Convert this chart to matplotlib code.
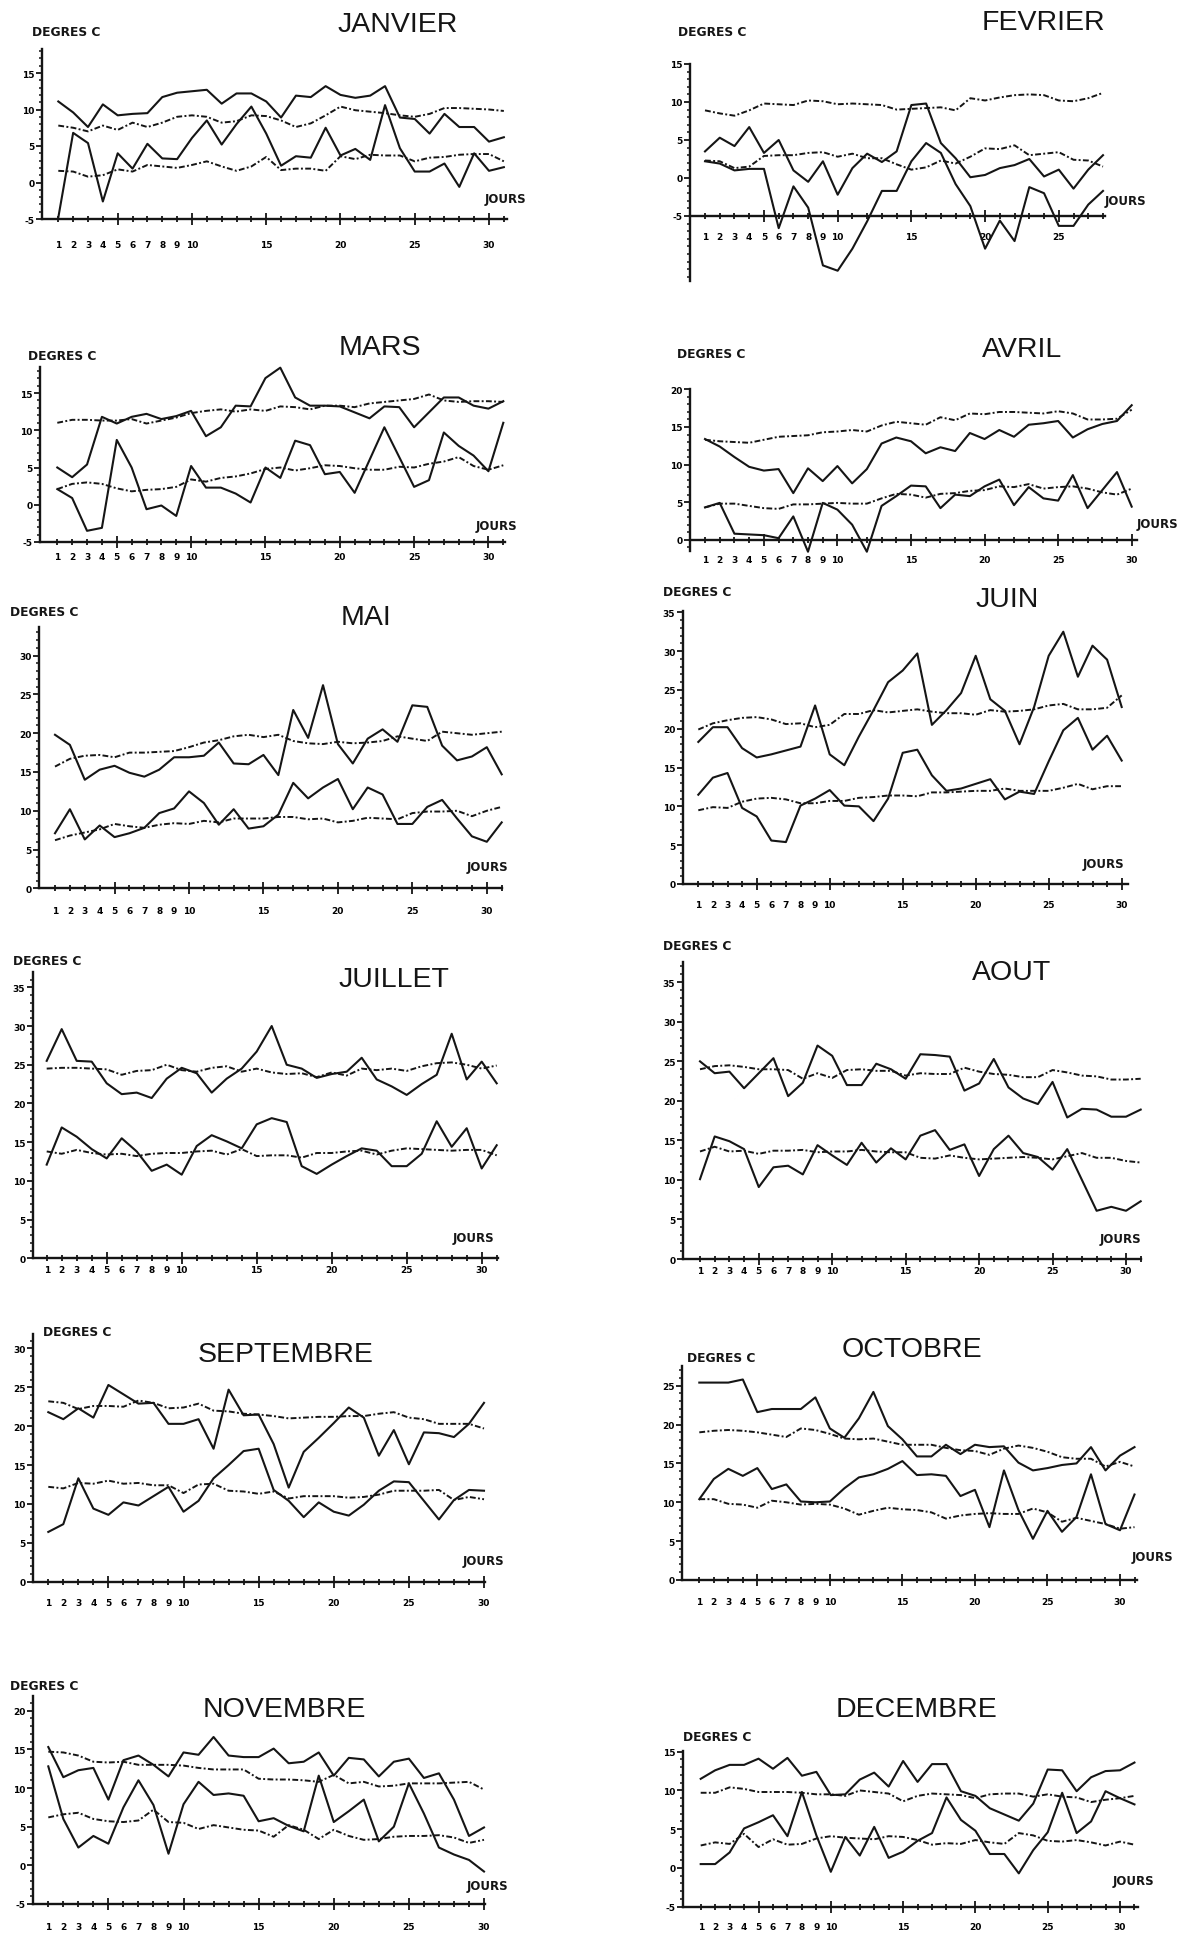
import matplotlib
matplotlib.use("Agg")
import matplotlib.pyplot as plt

# daily max / daily min / normal max / normal min, deg C, one value per day
jan_max = [11.1, 9.6, 7.6, 10.7, 9.2, 9.4, 9.5, 11.7, 12.3, 12.5, 12.7, 10.8, 12.2, 12.2, 11.1, 8.9,
           11.9, 11.7, 13.2, 12.0, 11.6, 11.9, 13.2, 8.9, 8.7, 6.7, 9.4, 7.6, 7.6, 5.6, 6.2]
jan_min = [-4.8, 6.8, 5.4, -2.6, 4.0, 1.9, 5.3, 3.3, 3.2, 6.1, 8.5, 5.2, 8.0, 10.4, 6.7, 2.3,
           3.6, 3.4, 7.5, 3.7, 4.6, 3.1, 10.6, 4.7, 1.5, 1.5, 2.6, -0.6, 4.0, 1.6, 2.1]
jan_nmax = [7.8, 7.5, 7.0, 7.8, 7.2, 8.2, 7.6, 8.2, 9.0, 9.2, 9.0, 8.2, 8.4, 9.2, 9.1, 8.5,
            7.6, 8.1, 9.2, 10.4, 9.9, 9.7, 9.5, 9.2, 9.0, 9.4, 10.2, 10.2, 10.1, 10.0, 9.8]
jan_nmin = [1.6, 1.5, 0.8, 1.0, 1.8, 1.5, 2.4, 2.2, 2.0, 2.4, 2.9, 2.2, 1.6, 2.2, 3.5, 1.7,
            1.9, 1.9, 1.6, 3.6, 3.2, 3.8, 3.7, 3.7, 2.9, 3.4, 3.5, 3.8, 3.9, 3.9, 2.9]

feb_max = [3.5, 5.3, 4.2, 6.7, 3.3, 5.0, 1.0, -0.5, 2.2, -2.2, 1.3, 3.2, 2.1, 3.5, 9.6, 9.8,
           4.6, 2.6, 0.1, 0.4, 1.3, 1.7, 2.5, 0.2, 1.1, -1.4, 1.1, 3.0]
feb_min = [2.2, 1.9, 1.0, 1.2, 1.2, -6.6, -1.1, -3.9, -11.5, -12.2, -9.3, -5.7, -1.7, -1.7, 2.2, 4.6,
           3.3, -0.8, -3.7, -9.3, -5.6, -8.3, -1.2, -2.0, -6.3, -6.3, -3.5, -1.7]
feb_nmax = [8.9, 8.5, 8.2, 8.9, 9.8, 9.7, 9.6, 10.2, 10.1, 9.7, 9.8, 9.7, 9.6, 9.0, 9.1, 9.2,
            9.3, 8.9, 10.5, 10.2, 10.6, 10.9, 11.0, 10.9, 10.2, 10.1, 10.5, 11.2]
feb_nmin = [2.3, 2.2, 1.3, 1.5, 2.9, 3.0, 3.0, 3.3, 3.4, 2.8, 3.2, 2.6, 2.6, 1.8, 1.1, 1.4,
            2.3, 1.9, 2.8, 3.9, 3.8, 4.3, 3.0, 3.2, 3.4, 2.4, 2.3, 1.5]

mar_max = [5.0, 3.7, 5.4, 11.8, 10.9, 11.8, 12.2, 11.5, 11.9, 12.6, 9.2, 10.4, 13.3, 13.2, 17.0, 18.4,
           14.4, 13.3, 13.3, 13.2, 12.4, 11.6, 13.2, 13.1, 10.4, 12.4, 14.4, 14.4, 13.3, 12.9, 13.9]
mar_min = [2.1, 0.9, -3.5, -3.1, 8.7, 5.0, -0.6, -0.1, -1.5, 5.2, 2.3, 2.3, 1.5, 0.3, 5.0, 3.6,
           8.6, 8.0, 4.1, 4.4, 1.6, 6.0, 10.4, 6.4, 2.4, 3.3, 9.7, 7.9, 6.6, 4.5, 11.0]
mar_nmax = [11.0, 11.4, 11.4, 11.3, 11.3, 11.5, 10.9, 11.3, 11.7, 12.3, 12.6, 12.8, 12.5, 12.8, 12.6, 13.2,
            13.1, 12.8, 13.3, 13.3, 13.1, 13.6, 13.8, 14.0, 14.2, 14.8, 14.0, 13.8, 13.9, 13.9, 13.8]
mar_nmin = [2.1, 2.8, 3.0, 2.8, 2.2, 1.8, 2.0, 2.1, 2.4, 3.4, 3.1, 3.6, 3.8, 4.2, 4.8, 5.0,
            4.6, 4.9, 5.3, 5.2, 4.9, 4.7, 4.7, 5.1, 5.0, 5.5, 5.8, 6.4, 5.2, 4.7, 5.3]

avr_max = [13.4, 12.4, 11.0, 9.7, 9.2, 9.4, 6.2, 9.5, 7.8, 9.8, 7.5, 9.4, 12.8, 13.6, 13.1,
           11.5, 12.3, 11.8, 14.2, 13.4, 14.6, 13.7, 15.3, 15.5, 15.8, 13.6, 14.7, 15.4, 15.8, 17.9]
avr_min = [4.3, 4.9, 0.8, 0.7, 0.6, 0.2, 3.1, -1.6, 4.9, 4.0, 2.0, -1.6, 4.5, 5.8, 7.2,
           7.1, 4.2, 6.0, 5.8, 7.1, 8.0, 4.6, 7.0, 5.5, 5.2, 8.6, 4.2, 6.6, 9.0, 4.4]
avr_nmax = [13.3, 13.1, 13.0, 12.9, 13.3, 13.7, 13.8, 13.9, 14.3, 14.4, 14.6, 14.4, 15.2, 15.7, 15.5,
            15.3, 16.3, 15.9, 16.8, 16.7, 17.0, 17.0, 16.9, 16.8, 17.1, 16.8, 16.0, 16.0, 16.1, 17.3]
avr_nmin = [4.3, 4.8, 4.8, 4.5, 4.2, 4.1, 4.7, 4.7, 4.8, 4.9, 4.8, 4.8, 5.5, 6.1, 6.0,
            5.6, 6.1, 6.2, 6.5, 6.6, 7.1, 7.0, 7.4, 6.8, 7.0, 7.1, 6.8, 6.3, 6.0, 6.8]

mai_max = [19.8, 18.5, 14.0, 15.3, 15.8, 14.9, 14.4, 15.3, 16.9, 16.9, 17.1, 18.8, 16.1, 16.0, 17.2, 14.6,
           23.0, 19.4, 26.2, 18.6, 16.1, 19.3, 20.5, 18.9, 23.6, 23.4, 18.4, 16.5, 17.0, 18.2, 14.7]
mai_min = [7.1, 10.2, 6.3, 8.1, 6.6, 7.1, 7.8, 9.7, 10.3, 12.5, 11.0, 8.2, 10.2, 7.7, 8.0, 9.5,
           13.6, 11.6, 13.0, 14.1, 10.2, 13.0, 12.1, 8.3, 8.3, 10.5, 11.4, 9.0, 6.7, 6.0, 8.5]
mai_nmax = [15.7, 16.7, 17.1, 17.2, 16.9, 17.5, 17.5, 17.6, 17.7, 18.2, 18.8, 19.1, 19.6, 19.8, 19.5, 19.8,
            19.0, 18.7, 18.6, 18.9, 18.7, 18.8, 19.0, 19.6, 19.3, 19.0, 20.2, 20.0, 19.8, 20.0, 20.2]
mai_nmin = [6.2, 6.8, 7.2, 7.6, 8.3, 8.0, 7.8, 8.2, 8.4, 8.3, 8.7, 8.5, 9.0, 9.0, 9.0, 9.2,
            9.2, 8.9, 9.0, 8.5, 8.7, 9.1, 9.0, 8.9, 9.7, 9.9, 9.9, 10.0, 9.3, 10.0, 10.5]

juin_max = [18.3, 20.2, 20.2, 17.5, 16.3, 16.7, 17.2, 17.7, 23.0, 16.7, 15.3, 19.0, 22.4, 26.0, 27.5,
            29.7, 20.5, 22.4, 24.6, 29.4, 23.8, 22.3, 18.0, 22.8, 29.4, 32.5, 26.7, 30.7, 28.9, 22.8]
juin_min = [11.5, 13.7, 14.3, 9.8, 8.7, 5.6, 5.4, 10.1, 11.0, 12.1, 10.1, 10.0, 8.1, 11.0, 16.9,
            17.3, 14.0, 12.0, 12.3, 12.9, 13.5, 10.9, 11.9, 11.6, 15.8, 19.8, 21.4, 17.3, 19.1, 15.9]
juin_nmax = [19.9, 20.7, 21.1, 21.4, 21.5, 21.2, 20.6, 20.7, 20.2, 20.5, 21.9, 21.9, 22.4, 22.1, 22.3,
             22.5, 22.2, 22.0, 22.0, 21.8, 22.4, 22.2, 22.3, 22.5, 23.0, 23.2, 22.5, 22.5, 22.7, 24.3]
juin_nmin = [9.5, 9.9, 9.8, 10.6, 11.0, 11.1, 10.9, 10.4, 10.4, 10.7, 10.7, 11.1, 11.2, 11.4, 11.4,
             11.3, 11.8, 11.8, 11.9, 12.0, 12.0, 12.3, 12.0, 12.0, 12.0, 12.4, 12.9, 12.2, 12.6, 12.6]

juil_max = [25.5, 29.6, 25.5, 25.4, 22.6, 21.2, 21.4, 20.7, 23.2, 24.6, 23.9, 21.4, 23.2, 24.5, 26.7, 30.0,
            25.0, 24.5, 23.3, 23.8, 24.1, 25.9, 23.1, 22.2, 21.1, 22.5, 23.7, 29.0, 23.1, 25.4, 22.6]
juil_min = [12.1, 16.9, 15.7, 14.1, 12.9, 15.5, 13.8, 11.3, 12.1, 10.8, 14.5, 15.9, 15.1, 14.2, 17.3, 18.1,
            17.6, 11.9, 10.9, 12.1, 13.2, 14.2, 13.9, 11.9, 11.9, 13.5, 17.7, 14.4, 16.8, 11.6, 14.6]
juil_nmax = [24.5, 24.6, 24.6, 24.5, 24.4, 23.7, 24.2, 24.3, 25.0, 24.3, 24.1, 24.6, 24.8, 24.1, 24.5, 24.0,
             23.8, 23.9, 23.4, 24.0, 23.6, 24.5, 24.3, 24.5, 24.2, 24.8, 25.2, 25.3, 25.0, 24.5, 24.9]
juil_nmin = [13.8, 13.5, 14.0, 13.6, 13.4, 13.5, 13.2, 13.5, 13.6, 13.6, 13.8, 13.9, 13.4, 14.1, 13.2, 13.3,
             13.3, 13.0, 13.6, 13.6, 13.8, 13.9, 13.4, 13.9, 14.2, 14.1, 14.0, 13.9, 14.0, 14.0, 13.3]

aout_max = [25.0, 23.5, 23.7, 21.6, 23.5, 25.4, 20.6, 22.3, 27.0, 25.7, 22.0, 22.0, 24.7, 24.0, 22.8, 25.9,
            25.8, 25.6, 21.3, 22.2, 25.3, 21.7, 20.3, 19.6, 22.4, 17.9, 19.0, 18.9, 18.0, 18.0, 18.9]
aout_min = [10.1, 15.5, 14.9, 13.9, 9.1, 11.6, 11.8, 10.7, 14.4, 13.1, 11.9, 14.7, 12.2, 14.0, 12.6, 15.6,
            16.3, 13.8, 14.5, 10.5, 13.9, 15.6, 13.4, 12.9, 11.3, 13.9, 10.0, 6.1, 6.6, 6.1, 7.3]
aout_nmax = [24.0, 24.4, 24.5, 24.3, 24.0, 24.0, 23.9, 22.8, 23.5, 22.9, 23.9, 24.0, 23.8, 23.8, 23.2, 23.5,
             23.4, 23.4, 24.2, 23.7, 23.4, 23.3, 23.0, 23.0, 23.9, 23.6, 23.2, 23.1, 22.7, 22.7, 22.8]
aout_nmin = [13.6, 14.2, 13.6, 13.7, 13.3, 13.7, 13.7, 13.8, 13.5, 13.6, 13.6, 13.8, 13.6, 13.5, 13.5, 12.8,
             12.7, 13.1, 12.8, 12.6, 12.7, 12.8, 12.9, 12.8, 12.6, 13.0, 13.4, 12.8, 12.8, 12.4, 12.2]

sep_max = [21.8, 20.9, 22.3, 21.1, 25.3, 24.1, 22.9, 23.0, 20.3, 20.3, 20.9, 17.1, 24.7, 21.4, 21.5,
           17.7, 12.1, 16.7, 18.5, 20.4, 22.4, 21.1, 16.2, 19.5, 15.1, 19.2, 19.1, 18.6, 20.3, 23.0]
sep_min = [6.4, 7.4, 13.3, 9.4, 8.6, 10.2, 9.8, 11.0, 12.2, 9.0, 10.4, 13.3, 15.0, 16.8, 17.1,
           11.8, 10.4, 8.3, 10.2, 9.0, 8.5, 9.9, 11.7, 12.9, 12.8, 10.4, 8.0, 10.5, 11.8, 11.7]
sep_nmax = [23.2, 23.0, 22.2, 22.6, 22.6, 22.5, 23.3, 23.0, 22.3, 22.4, 22.9, 22.0, 21.9, 21.6, 21.5,
            21.3, 21.0, 21.1, 21.2, 21.2, 21.3, 21.3, 21.6, 21.8, 21.1, 20.9, 20.3, 20.3, 20.3, 19.7]
sep_nmin = [12.2, 12.0, 12.7, 12.6, 13.0, 12.6, 12.7, 12.4, 12.4, 11.4, 12.5, 12.6, 11.7, 11.6, 11.3,
            11.6, 10.7, 11.0, 11.0, 11.0, 10.8, 10.9, 11.2, 11.7, 11.7, 11.7, 11.8, 10.5, 10.9, 10.6]

oct_max = [25.4, 25.4, 25.4, 25.8, 21.6, 22.0, 22.0, 22.0, 23.5, 19.5, 18.3, 20.8, 24.2, 19.8, 18.1, 15.9,
           15.9, 17.4, 16.2, 17.4, 17.1, 17.2, 15.1, 14.1, 14.4, 14.8, 15.0, 17.1, 14.1, 16.0, 17.1]
oct_min = [10.4, 13.0, 14.3, 13.4, 14.4, 11.7, 12.3, 10.1, 10.0, 10.1, 11.8, 13.2, 13.6, 14.3, 15.3, 13.5,
           13.6, 13.4, 10.8, 11.6, 6.8, 14.1, 9.0, 5.3, 8.9, 6.2, 8.1, 13.6, 7.2, 6.4, 11.0]
oct_nmax = [19.0, 19.2, 19.3, 19.2, 19.0, 18.7, 18.4, 19.5, 19.3, 18.8, 18.2, 18.1, 18.2, 17.8, 17.4, 17.4,
            17.4, 17.0, 16.7, 16.6, 16.1, 16.9, 17.3, 17.0, 16.5, 15.8, 15.6, 15.6, 14.6, 15.2, 14.6]
oct_nmin = [10.4, 10.4, 9.8, 9.7, 9.3, 10.2, 10.0, 9.7, 9.8, 9.7, 9.2, 8.4, 8.9, 9.3, 9.1, 9.0,
            8.7, 7.9, 8.3, 8.5, 8.6, 8.5, 8.5, 9.2, 8.7, 7.5, 8.0, 7.6, 7.2, 6.6, 6.8]

nov_max = [15.3, 11.4, 12.3, 12.6, 8.5, 13.6, 14.2, 13.0, 11.5, 14.6, 14.3, 16.6, 14.2, 14.0, 14.0,
           15.1, 13.2, 13.4, 14.6, 11.6, 13.9, 13.7, 11.5, 13.4, 13.8, 11.3, 11.9, 8.5, 3.8, 4.9]
nov_min = [12.8, 6.0, 2.3, 3.8, 2.8, 7.5, 11.0, 7.8, 1.5, 7.9, 10.8, 9.1, 9.3, 9.0, 5.7,
           6.1, 5.1, 4.4, 11.6, 5.6, 7.0, 8.5, 3.1, 5.0, 10.6, 6.7, 2.3, 1.4, 0.7, -0.8]
nov_nmax = [14.7, 14.6, 14.2, 13.4, 13.3, 13.4, 13.0, 13.0, 13.0, 12.9, 12.6, 12.4, 12.4, 12.4, 11.2,
            11.1, 11.1, 11.0, 10.8, 11.7, 10.6, 10.8, 10.2, 10.3, 10.6, 10.6, 10.6, 10.7, 10.8, 9.8]
nov_nmin = [6.2, 6.6, 6.8, 6.0, 5.7, 5.6, 5.8, 7.2, 5.6, 5.5, 4.7, 5.2, 4.9, 4.6, 4.5,
            3.7, 5.2, 4.6, 3.4, 4.6, 3.8, 3.3, 3.4, 3.7, 3.8, 3.8, 3.9, 3.6, 2.9, 3.3]

dec_max = [11.5, 12.6, 13.3, 13.3, 14.1, 12.8, 14.2, 11.9, 12.4, 9.4, 9.5, 11.4, 12.3, 10.5, 13.8, 11.1,
           13.4, 13.4, 9.9, 9.3, 7.7, 6.9, 6.1, 8.3, 12.7, 12.6, 9.9, 11.7, 12.5, 12.6, 13.6]
dec_min = [0.5, 0.5, 2.0, 5.1, 5.9, 6.8, 4.1, 9.8, 4.2, -0.5, 4.0, 1.6, 5.3, 1.3, 2.1, 3.5,
           4.5, 9.1, 6.2, 4.8, 1.8, 1.8, -0.7, 2.3, 4.6, 9.7, 4.5, 6.0, 9.9, 9.0, 8.2]
dec_nmax = [9.7, 9.7, 10.4, 10.2, 9.8, 9.8, 9.8, 9.7, 9.5, 9.5, 9.3, 10.0, 9.8, 9.6, 8.6, 9.3,
            9.6, 9.5, 9.4, 9.0, 9.5, 9.6, 9.6, 9.2, 9.5, 9.2, 9.1, 8.5, 8.8, 9.0, 9.3]
dec_nmin = [2.9, 3.3, 3.1, 4.4, 2.7, 3.7, 3.0, 3.1, 3.8, 4.1, 3.9, 3.8, 3.7, 4.1, 4.0, 3.6,
            3.0, 3.2, 3.1, 3.6, 3.3, 3.1, 4.5, 4.2, 3.5, 3.4, 3.6, 3.3, 2.9, 3.4, 3.0]

months = ["JANVIER", "FEVRIER", "MARS", "AVRIL", "MAI", "JUIN",
          "JUILLET", "AOUT", "SEPTEMBRE", "OCTOBRE", "NOVEMBRE", "DECEMBRE"]
series = [
    (jan_max, jan_min, jan_nmax, jan_nmin), (feb_max, feb_min, feb_nmax, feb_nmin),
    (mar_max, mar_min, mar_nmax, mar_nmin), (avr_max, avr_min, avr_nmax, avr_nmin),
    (mai_max, mai_min, mai_nmax, mai_nmin), (juin_max, juin_min, juin_nmax, juin_nmin),
    (juil_max, juil_min, juil_nmax, juil_nmin), (aout_max, aout_min, aout_nmax, aout_nmin),
    (sep_max, sep_min, sep_nmax, sep_nmin), (oct_max, oct_min, oct_nmax, oct_nmin),
    (nov_max, nov_min, nov_nmax, nov_nmin), (dec_max, dec_min, dec_nmax, dec_nmin),
]

W, H = 1196, 1940

# frame of each panel in pixels:
# spine x, right end x, x of day 1, (day, x), (value, y), (value, y), top y, bottom y, x-axis level
frames = [
    (42, 507, 58.3, (30, 489), (15, 74), (-5, 220), 50, 220, -5),
    (690, 1105, 705, (28, 1103), (15, 65), (-5, 217), 65, 282, -5),
    (40, 505, 57.3, (31, 503.3), (15, 394), (-5, 543), 368, 543, -5),
    (690, 1137, 705, (30, 1131.7), (15, 428), (0, 540.7), 390, 552, 0),
    (39, 502, 55, (31, 501.7), (30, 656.7), (0, 889.3), 628, 889.3, 0),
    (683, 1128, 698.3, (30, 1121.7), (35, 613.3), (0, 885), 612, 885, 0),
    (33, 498, 46.7, (30, 481.7), (35, 988.3), (0, 1259.3), 973, 1259.3, 0),
    (683, 1141, 700, (30, 1126), (35, 983.3), (0, 1260), 963, 1260, 0),
    (33, 485, 48.3, (30, 484), (25, 1388.3), (0, 1582.7), 1335, 1582.7, 0),
    (682, 1137, 699.3, (30, 1120), (25, 1386.7), (0, 1581), 1367, 1581, 0),
    (33, 485, 48.3, (30, 484), (20, 1711.7), (-5, 1905), 1697, 1905, -5),
    (683, 1138, 700.7, (30, 1120), (15, 1752.7), (-5, 1907.7), 1752, 1907.7, -5),
]
title_xy = [(398, 25), (1043, 23), (380, 348), (1022, 350), (366, 618), (1007, 600),
            (394, 980), (1012, 973), (286, 1355), (912, 1350), (284, 1710), (916, 1710)]
degres_xy = [(32, 33), (678, 32), (28, 357), (677, 355), (10, 612), (663, 593),
             (13, 962), (663, 947), (43, 1332), (687, 1359), (10, 1687), (683, 1738)]
jours_xy = [(485, 200), (1105, 202), (476, 527), (1137, 525), (467, 868), (1083, 865),
            (453, 1239), (1100, 1240), (463, 1562), (1132, 1558), (467, 1887), (1113, 1882)]
label_gap = [25, 20, 14, 19, 22, 20, 11, 11, 20, 21, 22, 19]

INK = "#151515"
BOLD = dict(family="DejaVu Sans", weight="bold")

fig = plt.figure(figsize=(W / 100, H / 100), dpi=100)
fig.patch.set_facecolor("white")


def fx(x):
    return x / W


def fy(y):
    return 1 - y / H


for i, name in enumerate(months):
    tmax, tmin, nmax, nmin = series[i]
    sx, rx, d1x, (dn, dnx), (v1, p1), (v2, p2), top, bot, base = frames[i]
    n = len(tmax)

    # pixel frame -> axes box and data limits
    ppd = (dnx - d1x) / (dn - 1)
    ppu = (p2 - p1) / (v1 - v2)
    xlim = (1 + (sx - d1x) / ppd, 1 + (rx - d1x) / ppd)
    ylim = (v2 - (bot - p2) / ppu, v1 + (p1 - top) / ppu)
    ax = fig.add_axes([fx(sx), fy(bot), (rx - sx) / W, (bot - top) / H])
    ax.set_xlim(*xlim)
    ax.set_ylim(*ylim)
    ax.patch.set_alpha(0)

    days = list(range(1, n + 1))
    ax.plot(days, tmax, color=INK, lw=1.5, clip_on=False)
    ax.plot(days, tmin, color=INK, lw=1.5, clip_on=False)
    ax.plot(days, nmax, color=INK, lw=1.4, ls=(0, (3, 1.2, 1, 1.2)), clip_on=False)
    ax.plot(days, nmin, color=INK, lw=1.4, ls=(0, (3, 1.2, 1, 1.2)), clip_on=False)

    for s in ("top", "right"):
        ax.spines[s].set_visible(False)
    ax.spines["left"].set_linewidth(1.7)
    ax.spines["bottom"].set_linewidth(1.7)
    ax.spines["left"].set_color(INK)
    ax.spines["bottom"].set_color(INK)
    ax.spines["bottom"].set_position(("data", base))

    # days along the x axis: every day ticked, 1-10 then every 5 labelled
    tick_days = list(range(1, int(xlim[1]) + 1))
    ax.set_xticks(tick_days, labels=[str(d) if (d <= 10 or d % 5 == 0) else "" for d in tick_days])
    ax.tick_params(axis="x", direction="inout", length=4, width=1.3, color=INK,
                   pad=max(label_gap[i] - 5, 2) / 1.389 - 1.4, labelsize=6.5)
    for t in ax.xaxis.get_major_ticks():
        if t.get_loc() % 5 == 0:
            t.tick1line.set_markersize(9)
    for lab in ax.get_xticklabels():
        lab.set_fontweight("bold")
        lab.set_family("DejaVu Sans")

    # degrees along the y axis
    lo = int(-(-max(base, ylim[0]) // 5) * 5)
    majors = list(range(lo, int(ylim[1]) + 1, 5))
    ax.set_yticks(majors, labels=[str(v) for v in majors])
    ax.set_yticks(range(int(ylim[0]), int(ylim[1]) + 1), minor=True)
    ax.tick_params(axis="y", which="major", direction="out", length=4, width=1.3,
                   color=INK, pad=1.5, labelsize=6.5)
    ax.tick_params(axis="y", which="minor", direction="out", length=2.5, width=1.1, color=INK)
    for lab in ax.get_yticklabels():
        lab.set_fontweight("bold")
        lab.set_family("DejaVu Sans")

    fig.text(fx(title_xy[i][0]), fy(title_xy[i][1]), name, ha="center", va="center",
             family="Liberation Sans", fontsize=20.5, color=INK)
    fig.text(fx(degres_xy[i][0]), fy(degres_xy[i][1]), "DEGRES C", ha="left", va="center",
             fontsize=8.8, color=INK, **BOLD)
    fig.text(fx(jours_xy[i][0]), fy(jours_xy[i][1]), "JOURS", ha="left", va="center",
             fontsize=8.5, color=INK, **BOLD)

fig.savefig("out.png", dpi=100, facecolor="white")
